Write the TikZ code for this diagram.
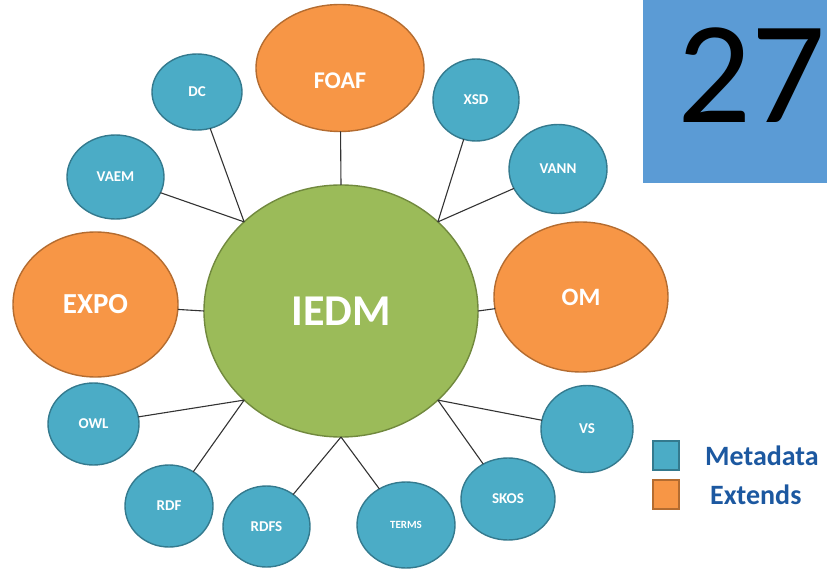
\documentclass[tikz,border=0pt]{standalone}
\usepackage{fontspec}
\setmainfont{Carlito}
\usetikzlibrary{shapes.geometric}
\usetikzlibrary{positioning}

\definecolor{metafill}{RGB}{75,172,198}
\definecolor{metaline}{RGB}{52,122,142}
\definecolor{extfill}{RGB}{247,150,70}
\definecolor{extline}{RGB}{180,108,48}
\definecolor{hubfill}{RGB}{155,187,89}
\definecolor{hubline}{RGB}{113,137,62}
\definecolor{badgeblue}{RGB}{91,155,213}
\definecolor{legendtext}{RGB}{28,88,160}

\begin{document}
\begin{tikzpicture}[x=1pt, y=-1pt,
		blob/.style={ellipse, inner sep=0, outer sep=0, line width=1.4pt, text=white, font=\bfseries},
		meta/.style={blob, draw=metaline, fill=metafill, font=\bfseries\fontsize{15}{15}\selectfont},
		ext/.style={blob, draw=extline, fill=extfill},
		link/.style={line width=1.1pt, black!80}]
				\useasboundingbox (0,0) rectangle (827,569);
				
				\node[blob, draw=hubline, fill=hubfill, minimum width=274, minimum height=252, font=\bfseries\fontsize{44}{44}\selectfont] (IEDM) at (341,311) {IEDM};
				
				\node[ext, minimum width=168, minimum height=127, text height=42pt, text depth=0pt, font=\bfseries\fontsize{24}{24}\selectfont] (FOAF) at (340,68) {FOAF};
				\node[ext, minimum width=165, minimum height=145, font=\bfseries\fontsize{29}{29}\selectfont] (EXPO) at (95.5,304.5) {EXPO};
				\node[ext, minimum width=174, minimum height=150, font=\bfseries\fontsize{25}{25}\selectfont] (OM) at (581,297) {OM};
				
				\node[meta, minimum width=90, minimum height=76] (DC) at (197,92) {DC};
				\node[meta, minimum width=97, minimum height=84] (VAEM) at (115.5,177) {VAEM};
				\node[meta, minimum width=86, minimum height=82] (XSD) at (476,100) {XSD};
				\node[meta, minimum width=98, minimum height=89] (VANN) at (558,169) {VANN};
				\node[meta, minimum width=91, minimum height=82] (OWL) at (93.5,424) {OWL};
				\node[meta, minimum width=88, minimum height=82] (RDF) at (169,506) {RDF};
				\node[meta, minimum width=87, minimum height=81] (RDFS) at (266.5,526.5) {RDFS};
				\node[meta, minimum width=98, minimum height=86, font=\bfseries\fontsize{11}{11}\selectfont] (TERMS) at (406,525) {TERMS};
				\node[meta, minimum width=94, minimum height=82] (SKOS) at (508,499) {SKOS};
				\node[meta, minimum width=92, minimum height=87] (VS) at (587,429) {VS};
				
				% links to the hub
				\draw[link] (FOAF) -- (IEDM.north);
				\draw[link] (EXPO) -- (IEDM.west);
				\draw[link] (OM) -- (IEDM.east);
				\draw[link] (DC) -- (IEDM.north west);
				\draw[link] (VAEM) -- (IEDM.north west);
				\draw[link] (XSD) -- (IEDM.north east);
				\draw[link] (VANN) -- (IEDM.north east);
				\draw[link] (OWL) -- (IEDM.south west);
				\draw[link] (RDF) -- (IEDM.south west);
				\draw[link] (RDFS) -- (IEDM.south);
				\draw[link] (TERMS) -- (IEDM.south);
				\draw[link] (SKOS) -- (IEDM.south east);
				\draw[link] (VS) -- (IEDM.south east);
				
				% slide number
				\node[fill=badgeblue, minimum width=184, minimum height=183, inner sep=0, anchor=north east] (badge) at (827,0) {};
				\node[inner sep=0, font=\fontsize{146}{146}\selectfont] (num) at (751,75) {27};
				
				% legend
				\node[draw=metaline, fill=metafill, line width=1.4pt, minimum width=26, minimum height=29, inner sep=0] (keymeta) at (666,455.5) {};
				\node[draw=extline, fill=extfill, line width=1.4pt, minimum width=26, minimum height=29, inner sep=0] (keyext) at (666,494.5) {};
				\node[anchor=west, inner sep=0, text=legendtext, font=\bfseries\fontsize{28}{28}\selectfont] (txtmeta) at (705,456) {Metadata};
				\node[anchor=west, inner sep=0, text=legendtext, font=\bfseries\fontsize{28}{28}\selectfont] (txtext) at (710,495) {Extends};
			\end{tikzpicture}
\end{document}
